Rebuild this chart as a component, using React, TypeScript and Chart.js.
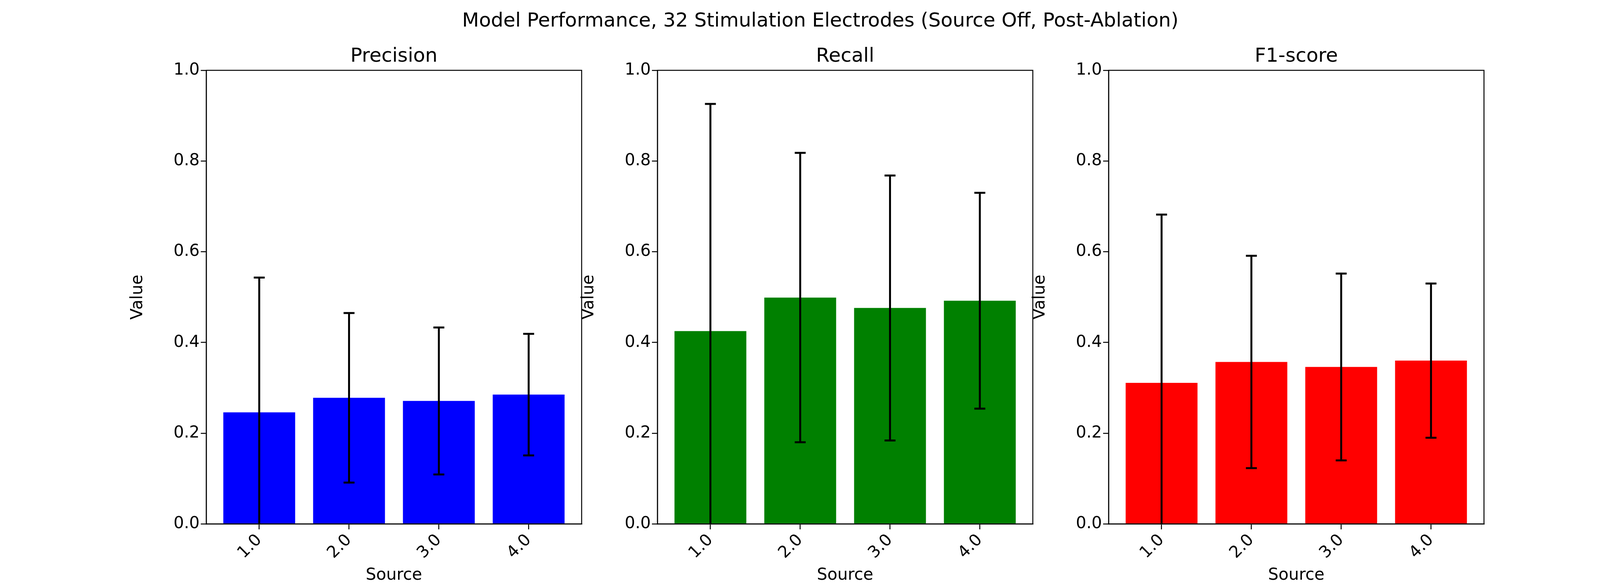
import React, { useEffect, useRef } from 'react';
import Chart from 'chart.js/auto';

const sources = [1, 2, 3, 4];
const tickLabels = ['1.0', '2.0', '3.0', '4.0'];
const precisionMean = [0.246, 0.278, 0.271, 0.285];
const precisionErr = [0.297, 0.187, 0.162, 0.134];
const recallMean = [0.425, 0.499, 0.476, 0.492];
const recallErr = [0.501, 0.319, 0.292, 0.238];
const f1Mean = [0.311, 0.357, 0.346, 0.36];
const f1Err = [0.371, 0.234, 0.206, 0.17];

const panels = [
  { title: 'Precision', mean: precisionMean, err: precisionErr, color: '#0000ff', left: 528 },
  { title: 'Recall', mean: recallMean, err: recallErr, color: '#008000', left: 1683 },
  { title: 'F1-score', mean: f1Mean, err: f1Err, color: '#ff0000', left: 2838 },
];

const PLOT_W = 961;
const PLOT_TOP = 180;
const PLOT_BOTTOM = 1341;
const YW = 200;
const FONT = 'DejaVu Sans';

const Panel: React.FC<{ p: typeof panels[0] }> = ({ p }) => {
  const ref = useRef<HTMLCanvasElement | null>(null);
  useEffect(() => {
    const ctx = ref.current?.getContext('2d');
    if (!ctx) return;
    const errPlugin = {
      id: 'err',
      afterDatasetsDraw(chart: any) {
        const c = chart.ctx;
        const { x, y } = chart.scales;
        const a = chart.chartArea;
        c.save();
        c.beginPath();
        c.rect(a.left, a.top, a.right - a.left, a.bottom - a.top);
        c.clip();
        c.strokeStyle = '#000';
        c.lineWidth = 5;
        sources.forEach((s, i) => {
          const px = x.getPixelForValue(s);
          const lo = y.getPixelForValue(p.mean[i] - p.err[i]);
          const hi = y.getPixelForValue(p.mean[i] + p.err[i]);
          c.beginPath();
          c.moveTo(px, lo); c.lineTo(px, hi);
          c.moveTo(px - 14, lo); c.lineTo(px + 14, lo);
          c.moveTo(px - 14, hi); c.lineTo(px + 14, hi);
          c.stroke();
        });
        c.restore();
        c.save();
        c.strokeStyle = '#000';
        c.lineWidth = 2.5;
        c.strokeRect(a.left, a.top, a.right - a.left, a.bottom - a.top);
        c.fillStyle = '#000';
        c.font = `50px "${FONT}"`;
        c.textAlign = 'center';
        c.textBaseline = 'alphabetic';
        c.fillText(p.title, (a.left + a.right) / 2, a.top - 22);
        c.restore();
      },
    };
    const chart = new Chart(ctx, {
      type: 'bar',
      data: {
        datasets: [{
          data: sources.map((s, i) => ({ x: s, y: p.mean[i] })),
          backgroundColor: p.color,
          categoryPercentage: 0.8,
          barPercentage: 1,
        }],
      },
      options: {
        animation: false,
        responsive: false,
        layout: { padding: { top: PLOT_TOP, left: 0, right: 20, bottom: 0 } },
        plugins: { legend: { display: false }, tooltip: { enabled: false }, title: { display: false } },
        scales: {
          x: {
            type: 'linear', min: 0.41, max: 4.59, offset: false,
            afterBuildTicks: (s: any) => { s.ticks = sources.map((v) => ({ value: v })); },
            afterTickToLabelConversion: (s: any) => { s.ticks = s.ticks.filter((t: any) => sources.includes(t.value)); },
            afterFit: (s: any) => { s.height = 1500 - PLOT_BOTTOM; },
            ticks: {
              minRotation: 45, maxRotation: 45, color: '#000',
              font: { family: FONT, size: 42 },
              callback: (v: any) => tickLabels[sources.indexOf(Number(v))] ?? '',
            },
            grid: { offset: false, drawOnChartArea: false, drawTicks: true, tickLength: 14, color: '#000', lineWidth: 2.5 },
            border: { color: '#000', width: 2.5 },
            title: { display: true, text: 'Source', color: '#000', font: { family: FONT, size: 42 }, padding: { top: 0, bottom: 2 } },
          },
          y: {
            min: 0, max: 1,
            afterFit: (s: any) => { s.width = YW; },
            ticks: { stepSize: 0.2, color: '#000', font: { family: FONT, size: 42 }, callback: (v: any) => Number(v).toFixed(1) },
            grid: { drawOnChartArea: false, drawTicks: true, tickLength: 14, color: '#000', lineWidth: 2.5 },
            border: { color: '#000', width: 2.5 },
            title: { display: true, text: 'Value', color: '#000', font: { family: FONT, size: 42 }, padding: { top: 0, bottom: 40 } },
          },
        },
      },
      plugins: [errPlugin],
    });
    return () => chart.destroy();
  }, [p]);
  return (
    <canvas
      ref={ref}
      width={YW + PLOT_W + 20}
      height={1500}
      style={{ position: 'absolute', left: p.left - YW, top: 0, width: YW + PLOT_W + 20, height: 1500 }}
    />
  );
};

export default function App() {
  return (
    <div style={{ position: 'relative', width: 4200, height: 1500, background: '#fff', margin: -8 }}>
      <div style={{ position: 'absolute', top: 22, width: 4200, textAlign: 'center', fontFamily: FONT, fontSize: 50, color: '#000' }}>
        Model Performance, 32 Stimulation Electrodes (Source Off, Post-Ablation)
      </div>
      {panels.map((p) => <Panel key={p.title} p={p} />)}
    </div>
  );
}
